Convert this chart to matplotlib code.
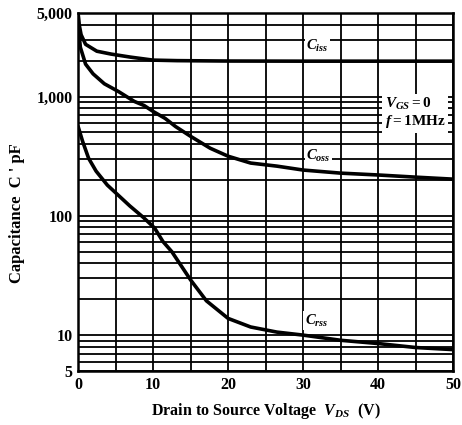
import matplotlib
matplotlib.use("Agg")
import matplotlib.pyplot as plt
from matplotlib.ticker import FixedLocator, NullFormatter

plt.rcParams['font.family'] = ['Liberation Serif', 'DejaVu Serif']
plt.rcParams['font.weight'] = 'bold'
plt.rcParams['mathtext.fontset'] = 'custom'
plt.rcParams['mathtext.it'] = 'Liberation Serif:italic:bold'
plt.rcParams['mathtext.rm'] = 'Liberation Serif:bold'

# Data (V_DS in volts, capacitance in pF)
ciss_v = [0, 0.15, 0.4, 1.0, 2.5, 4.4, 7.0, 10, 13.2, 20, 30, 40, 50]
ciss_c = [5000, 4000, 3300, 2740, 2400, 2270, 2140, 2020, 2000, 1985, 1980, 1980, 1980]

coss_v = [0, 0.1, 0.3, 1.0, 2.0, 3.5, 5.4, 7.5, 8.8, 10, 11.6, 13, 15, 17.6,
          20, 23, 26.5, 30, 35, 40, 45, 50]
coss_c = [5000, 3500, 2590, 1870, 1550, 1280, 1100, 910, 841, 750, 656, 560, 464, 369,
          316, 277, 261, 242, 228, 220, 211, 203]

crss_v = [0, 0.6, 1.4, 2.4, 3.9, 5.3, 6.9, 8.7, 10.2, 11.3, 12.5, 15, 17.1,
          20, 23, 26.5, 30, 35, 40, 45, 50]
crss_c = [562, 422, 304, 237, 181, 150, 121, 97, 79, 61, 50, 29, 19.4,
          13.8, 11.7, 10.6, 10.0, 9.05, 8.5, 7.87, 7.56]

x_ticks = [0, 10, 20, 30, 40, 50]
y_ticks = [5, 10, 100, 1000, 5000]
y_tick_labels = ["5", "10", "100", "1,000", "5,000"]

fig = plt.figure(figsize=(4.62, 4.25), dpi=100)
ax = fig.add_axes([0.169, 0.127, 0.812, 0.842])
ax.set_yscale('log')
ax.set_xlim(0, 50)
ax.set_ylim(5, 5000)

ax.yaxis.set_major_locator(FixedLocator(y_ticks))
ax.set_yticklabels(y_tick_labels)
minor_y = [6, 7, 8, 9] + list(range(20, 100, 10)) + list(range(200, 1000, 100)) + [2000, 3000, 4000]
ax.yaxis.set_minor_locator(FixedLocator(minor_y))
ax.yaxis.set_minor_formatter(NullFormatter())
ax.set_xticks(x_ticks)
ax.xaxis.set_minor_locator(FixedLocator([5, 15, 25, 35, 45]))
ax.tick_params(which='both', length=0, labelsize=11.5, pad=4)
for lab in ax.get_xticklabels() + ax.get_yticklabels():
    lab.set_fontweight('bold')

ax.grid(which='both', color='black', linewidth=1.3)
ax.set_axisbelow(True)
for s in ax.spines.values():
    s.set_linewidth(1.8)

for v, c in [(ciss_v, ciss_c), (coss_v, coss_c), (crss_v, crss_c)]:
    ax.plot(v, c, color='black', linewidth=2.6, solid_capstyle='round',
            solid_joinstyle='round')

ax.text(30.4, 2650, r"$C_{iss}$", fontsize=10.5, ha='left', va='center',
        bbox=dict(facecolor='white', edgecolor='none', pad=1))
ax.text(30.4, 320, r"$C_{oss}$", fontsize=10.5, ha='left', va='center',
        bbox=dict(facecolor='white', edgecolor='none', pad=1))
ax.text(30.2, 13.2, r"$C_{rss}$", fontsize=10.5, ha='left', va='center',
        bbox=dict(facecolor='white', edgecolor='none', pad=1))

ax.text(40.9, 730, r"$V_{GS}=0$" + "\n" + r"$f=$1MHz", fontsize=11,
        ha='left', va='center', linespacing=1.15,
        bbox=dict(facecolor='white', edgecolor='none', pad=2))

ax.set_xlabel(r"Drain to Source Voltage  $V_{DS}$  (V)", fontsize=11.5,
              fontweight='bold', labelpad=6)
ax.set_ylabel("Capacitance  C ' pF", fontsize=12, fontweight='bold')
ax.yaxis.set_label_coords(-0.142, 0.44)

fig.savefig("out.png", dpi=100)
